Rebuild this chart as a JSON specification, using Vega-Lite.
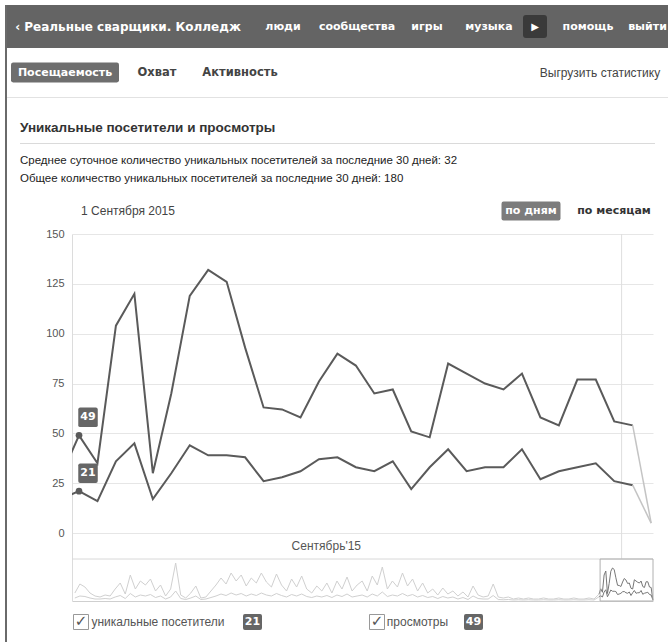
{
 "$schema": "https://vega.github.io/schema/vega-lite/v6.json",
 "background": "white",
 "padding": {"left": 5, "top": 5, "right": 0, "bottom": 0},
 "spacing": 0,
 "config": {"view": {"stroke": null}, "font": "Liberation Sans", "text": {"font": "Liberation Sans"}, "title": {"font": "Liberation Sans", "anchor": "start"}},
 "datasets": {
  "stats": [
   {"day":-313,"views":32,"visitors":12},{"day":-310,"views":68,"visitors":20},{"day":-307,"views":56,"visitors":18},{"day":-304,"views":32,"visitors":12},{"day":-301,"views":20,"visitors":8},
   {"day":-298,"views":16,"visitors":8},{"day":-295,"views":24,"visitors":10},{"day":-292,"views":20,"visitors":8},{"day":-289,"views":48,"visitors":16},{"day":-286,"views":72,"visitors":22},
   {"day":-283,"views":28,"visitors":10},{"day":-280,"views":104,"visitors":30},{"day":-277,"views":48,"visitors":16},{"day":-274,"views":80,"visitors":24},{"day":-271,"views":64,"visitors":20},
   {"day":-268,"views":88,"visitors":26},{"day":-265,"views":40,"visitors":14},{"day":-262,"views":64,"visitors":20},{"day":-259,"views":20,"visitors":8},{"day":-256,"views":48,"visitors":16},
   {"day":-253,"views":152,"visitors":40},{"day":-250,"views":24,"visitors":10},{"day":-247,"views":12,"visitors":6},{"day":-244,"views":32,"visitors":12},{"day":-241,"views":60,"visitors":20},
   {"day":-238,"views":12,"visitors":6},{"day":-235,"views":16,"visitors":8},{"day":-232,"views":40,"visitors":14},{"day":-229,"views":64,"visitors":20},{"day":-226,"views":92,"visitors":28},
   {"day":-223,"views":68,"visitors":22},{"day":-220,"views":112,"visitors":32},{"day":-217,"views":80,"visitors":24},{"day":-214,"views":104,"visitors":30},{"day":-211,"views":60,"visitors":20},
   {"day":-208,"views":92,"visitors":28},{"day":-205,"views":72,"visitors":22},{"day":-202,"views":112,"visitors":32},{"day":-199,"views":76,"visitors":24},{"day":-196,"views":56,"visitors":20},
   {"day":-193,"views":108,"visitors":30},{"day":-190,"views":64,"visitors":22},{"day":-187,"views":40,"visitors":16},{"day":-184,"views":88,"visitors":26},{"day":-181,"views":56,"visitors":20},
   {"day":-178,"views":100,"visitors":28},{"day":-175,"views":48,"visitors":18},{"day":-172,"views":32,"visitors":14},{"day":-169,"views":60,"visitors":20},{"day":-166,"views":40,"visitors":16},
   {"day":-163,"views":72,"visitors":22},{"day":-160,"views":32,"visitors":14},{"day":-157,"views":80,"visitors":24},{"day":-154,"views":48,"visitors":18},{"day":-151,"views":96,"visitors":28},
   {"day":-148,"views":40,"visitors":16},{"day":-145,"views":64,"visitors":20},{"day":-142,"views":80,"visitors":24},{"day":-139,"views":40,"visitors":16},{"day":-136,"views":100,"visitors":28},
   {"day":-133,"views":64,"visitors":20},{"day":-130,"views":136,"visitors":36},{"day":-127,"views":48,"visitors":18},{"day":-124,"views":80,"visitors":24},{"day":-121,"views":56,"visitors":20},
   {"day":-118,"views":112,"visitors":30},{"day":-115,"views":60,"visitors":20},{"day":-112,"views":88,"visitors":26},{"day":-109,"views":40,"visitors":16},{"day":-106,"views":72,"visitors":22},
   {"day":-103,"views":32,"visitors":14},{"day":-100,"views":48,"visitors":18},{"day":-97,"views":24,"visitors":10},{"day":-94,"views":52,"visitors":18},{"day":-91,"views":28,"visitors":12},
   {"day":-88,"views":40,"visitors":16},{"day":-85,"views":20,"visitors":8},{"day":-82,"views":36,"visitors":14},{"day":-79,"views":16,"visitors":6},{"day":-76,"views":60,"visitors":20},
   {"day":-73,"views":24,"visitors":10},{"day":-70,"views":16,"visitors":8},{"day":-67,"views":20,"visitors":8},{"day":-64,"views":68,"visitors":22},{"day":-61,"views":16,"visitors":6},
   {"day":-58,"views":12,"visitors":5},{"day":-55,"views":16,"visitors":6},{"day":-52,"views":8,"visitors":4},{"day":-49,"views":12,"visitors":5},{"day":-46,"views":8,"visitors":4},
   {"day":-43,"views":12,"visitors":5},{"day":-40,"views":8,"visitors":4},{"day":-37,"views":8,"visitors":4},{"day":-34,"views":12,"visitors":5},{"day":-31,"views":8,"visitors":4},
   {"day":-28,"views":8,"visitors":4},{"day":-25,"views":12,"visitors":5},{"day":-22,"views":8,"visitors":4},{"day":-19,"views":8,"visitors":4},{"day":-16,"views":12,"visitors":5},
   {"day":-13,"views":8,"visitors":4},{"day":-10,"views":8,"visitors":4},{"day":-7,"views":12,"visitors":5},{"day":-4,"views":8,"visitors":4},
   {"day":-1,"views":28,"visitors":17},{"day":0,"views":49,"visitors":21},{"day":1,"views":35,"visitors":16},{"day":2,"views":104,"visitors":36},{"day":3,"views":120,"visitors":45},
   {"day":4,"views":30,"visitors":17},{"day":5,"views":70,"visitors":30},{"day":6,"views":119,"visitors":44},{"day":7,"views":132,"visitors":39},{"day":8,"views":126,"visitors":39},
   {"day":9,"views":93,"visitors":38},{"day":10,"views":63,"visitors":26},{"day":11,"views":62,"visitors":28},{"day":12,"views":58,"visitors":31},{"day":13,"views":76,"visitors":37},
   {"day":14,"views":90,"visitors":38},{"day":15,"views":84,"visitors":33},{"day":16,"views":70,"visitors":31},{"day":17,"views":72,"visitors":36},{"day":18,"views":51,"visitors":22},
   {"day":19,"views":48,"visitors":33},{"day":20,"views":85,"visitors":42},{"day":21,"views":80,"visitors":31},{"day":22,"views":75,"visitors":33},{"day":23,"views":72,"visitors":33},
   {"day":24,"views":80,"visitors":42},{"day":25,"views":58,"visitors":27},{"day":26,"views":54,"visitors":31},{"day":27,"views":77,"visitors":33},{"day":28,"views":77,"visitors":35},
   {"day":29,"views":56,"visitors":26},{"day":30,"views":54,"visitors":24},{"day":31,"views":5,"visitors":5}
  ]
 },
 "hconcat": [
  {"width": 2, "height": 637, "view": {"fill": "#6a6a6a"}, "data": {"values": [{"k": 1}]}, "mark": {"type": "point", "opacity": 0, "size": 0}, "encoding": {}},
  {"spacing": 0, "vconcat": [
   {"spacing": 0, "bounds": "flush", "hconcat": [
    {"width": 242, "height": 43, "view": {"fill": "#646464"}, "data": {"values": [{"t": "‹ Реальные сварщики. Колледж"}]}, "mark": {"type": "text", "color": "white", "fontWeight": "bold", "fontSize": 12, "font": "DejaVu Sans"}, "encoding": {"text": {"field": "t"}}},
    {"width": 68, "height": 43, "view": {"fill": "#646464"}, "data": {"values": [{"t": "люди"}]}, "mark": {"type": "text", "color": "white", "fontWeight": "bold", "fontSize": 11, "font": "DejaVu Sans"}, "encoding": {"text": {"field": "t"}}},
    {"width": 80, "height": 43, "view": {"fill": "#646464"}, "data": {"values": [{"t": "сообщества"}]}, "mark": {"type": "text", "color": "white", "fontWeight": "bold", "fontSize": 11, "font": "DejaVu Sans"}, "encoding": {"text": {"field": "t"}}},
    {"width": 60, "height": 43, "view": {"fill": "#646464"}, "data": {"values": [{"t": "игры"}]}, "mark": {"type": "text", "color": "white", "fontWeight": "bold", "fontSize": 11, "font": "DejaVu Sans"}, "encoding": {"text": {"field": "t"}}},
    {"width": 64, "height": 43, "view": {"fill": "#646464"}, "data": {"values": [{"t": "музыка"}]}, "mark": {"type": "text", "color": "white", "fontWeight": "bold", "fontSize": 11, "font": "DejaVu Sans"}, "encoding": {"text": {"field": "t"}}},
    {"width": 28, "height": 43, "view": {"fill": "#646464"}, "data": {"values": [{"t": "▶"}]}, "layer": [
     {"mark": {"type": "point", "shape": "M-0.75,-0.95H0.75Q1,-0.95 1,-0.7V0.7Q1,0.95 0.75,0.95H-0.75Q-1,0.95 -1,0.7V-0.7Q-1,-0.95 -0.75,-0.95Z", "filled": true, "color": "#3a3a3a", "opacity": 1, "size": 576}, "encoding": {}},
     {"mark": {"type": "text", "color": "white", "fontSize": 10, "font": "DejaVu Sans"}, "encoding": {"text": {"field": "t"}}}
    ]},
    {"width": 78, "height": 43, "view": {"fill": "#646464"}, "data": {"values": [{"t": "помощь"}]}, "mark": {"type": "text", "color": "white", "fontWeight": "bold", "fontSize": 11, "font": "DejaVu Sans"}, "encoding": {"text": {"field": "t"}}},
    {"width": 41, "height": 43, "view": {"fill": "#646464"}, "data": {"values": [{"t": "выйти"}]}, "mark": {"type": "text", "color": "white", "fontWeight": "bold", "fontSize": 11, "font": "DejaVu Sans"}, "encoding": {"text": {"field": "t"}}}
   ]},
   {"spacing": 0, "bounds": "flush", "hconcat": [
    {"width": 116, "height": 49, "data": {"values": [{"t": "Посещаемость"}]}, "layer": [
     {"mark": {"type": "point", "shape": "M-0.96,-0.185H0.96Q1,-0.185 1,-0.145V0.145Q1,0.185 0.96,0.185H-0.96Q-1,0.185 -1,0.145V-0.145Q-1,-0.185 -0.96,-0.185Z", "filled": true, "color": "#6e6e6e", "opacity": 1, "size": 11664}, "encoding": {}},
     {"mark": {"type": "text", "color": "white", "fontWeight": "bold", "fontSize": 11, "font": "DejaVu Sans"}, "encoding": {"text": {"field": "t"}}}
    ]},
    {"width": 68, "height": 49, "data": {"values": [{"t": "Охват"}]}, "mark": {"type": "text", "color": "#444", "fontWeight": "bold", "fontSize": 11.5, "font": "DejaVu Sans"}, "encoding": {"text": {"field": "t"}}},
    {"width": 98, "height": 49, "data": {"values": [{"t": "Активность"}]}, "mark": {"type": "text", "color": "#444", "fontWeight": "bold", "fontSize": 11.5, "font": "DejaVu Sans"}, "encoding": {"text": {"field": "t"}}},
    {"width": 251, "height": 49, "data": {"values": [{"k": 1}]}, "mark": {"type": "point", "opacity": 0, "size": 0}, "encoding": {}},
    {"width": 120, "height": 49, "data": {"values": [{"t": "Выгрузить статистику"}]}, "mark": {"type": "text", "color": "#444", "fontSize": 12}, "encoding": {"text": {"field": "t"}}}
   ]},
   {"width": 661, "height": 1, "view": {"fill": "#e2e2e2"}, "data": {"values": [{"k": 1}]}, "mark": {"type": "point", "opacity": 0, "size": 0}, "encoding": {}},
   {"width": 1, "height": 23, "data": {"values": [{"k": 1}]}, "mark": {"type": "point", "opacity": 0, "size": 0}, "encoding": {}},
   {"spacing": 0, "bounds": "flush", "hconcat": [
    {"width": 13, "height": 1, "data": {"values": [{"k": 1}]}, "mark": {"type": "point", "opacity": 0, "size": 0}, "encoding": {}},
    {"width": 635, "height": 1, "view": {"fill": "#dadada"}, "data": {"values": [{"k": 1}]}, "mark": {"type": "point", "opacity": 0, "size": 0}, "encoding": {},
     "title": {"text": "Уникальные посетители и просмотры", "anchor": "start", "fontSize": 13.5, "fontWeight": "bold", "color": "#333", "offset": 8.5}}
   ]},
   {"width": 1, "height": 10, "data": {"values": [{"k": 1}]}, "mark": {"type": "point", "opacity": 0, "size": 0}, "encoding": {}},
   {"spacing": 0, "bounds": "flush", "hconcat": [
    {"width": 13, "height": 1, "data": {"values": [{"k": 1}]}, "mark": {"type": "point", "opacity": 0, "size": 0}, "encoding": {}},
    {"width": 600, "height": 1, "data": {"values": [{"k": 1}]}, "mark": {"type": "point", "opacity": 0, "size": 0}, "encoding": {},
     "title": {"text": ["Среднее суточное количество уникальных посетителей за последние 30 дней: 32", "Общее количество уникальных посетителей за последние 30 дней: 180"], "anchor": "start", "fontSize": 11.5, "fontWeight": "normal", "color": "#222", "lineHeight": 18, "offset": 2}}
   ]},
   {"width": 1, "height": 13, "data": {"values": [{"k": 1}]}, "mark": {"type": "point", "opacity": 0, "size": 0}, "encoding": {}},
   {"spacing": 0, "bounds": "flush", "hconcat": [
    {"width": 242, "height": 22, "data": {"values": [{"t": "1 Сентября 2015"}]}, "mark": {"type": "text", "color": "#444", "fontSize": 12}, "encoding": {"text": {"field": "t"}}},
    {"width": 252, "height": 22, "data": {"values": [{"k": 1}]}, "mark": {"type": "point", "opacity": 0, "size": 0}, "encoding": {}},
    {"width": 60, "height": 22, "data": {"values": [{"t": "по дням"}]}, "layer": [
     {"mark": {"type": "point", "shape": "M-0.93,-0.322H0.93Q1,-0.322 1,-0.25V0.25Q1,0.322 0.93,0.322H-0.93Q-1,0.322 -1,0.25V-0.25Q-1,-0.322 -0.93,-0.322Z", "filled": true, "color": "#7c7c7c", "opacity": 1, "size": 3481}, "encoding": {}},
     {"mark": {"type": "text", "color": "white", "fontWeight": "bold", "fontSize": 11, "font": "DejaVu Sans"}, "encoding": {"text": {"field": "t"}}}
    ]},
    {"width": 106, "height": 22, "data": {"values": [{"t": "по месяцам"}]}, "mark": {"type": "text", "color": "#333", "fontWeight": "bold", "fontSize": 11, "font": "DejaVu Sans"}, "encoding": {"text": {"field": "t"}}}
   ]},
   {"width": 1, "height": 6, "data": {"values": [{"k": 1}]}, "mark": {"type": "point", "opacity": 0, "size": 0}, "encoding": {}},
   {"spacing": 0, "bounds": "flush", "hconcat": [
    {"width": 65, "height": 367, "data": {"values": [{"k": 1}]}, "mark": {"type": "point", "opacity": 0, "size": 0}, "encoding": {}},
    {"width": 581, "height": 367,
     "data": {"name": "stats"},
     "transform": [{"fold": ["views", "visitors"], "as": ["series", "value"]}],
     "resolve": {"scale": {"x": "independent", "y": "independent"}, "axis": {"x": "independent", "y": "independent"}},
     "layer": [
      {"encoding": {
        "x": {"field": "day", "type": "quantitative", "scale": {"domain": [-0.38, 31.1], "nice": false, "zero": false}, "axis": null},
        "y": {"field": "value", "type": "quantitative", "scale": {"domain": [-34.1, 150], "nice": false, "zero": false},
              "axis": {"values": [0, 25, 50, 75, 100, 125, 150], "grid": true, "gridColor": "#e6e6e6", "domain": true, "domainColor": "#dcdcdc", "ticks": false, "tickSize": 0, "labelPadding": 8, "labelColor": "#555", "labelFontSize": 11, "labelFont": "Liberation Sans", "title": null}}
       },
       "layer": [
        {"transform": [{"filter": "datum.day == 0 && datum.series == 'views'"}], "mark": {"type": "rule", "color": "#dedede", "strokeWidth": 1}, "encoding": {"x": {"datum": 29.4}, "y": {"datum": 150}, "y2": {"datum": -13.1}}},
        {"transform": [{"filter": "datum.day == 0 && datum.series == 'views'"}], "mark": {"type": "text", "fontSize": 12, "color": "#555"}, "encoding": {"x": {"datum": 13.4}, "y": {"datum": -6.5}, "text": {"value": "Сентябрь'15"}}},
        {"transform": [{"filter": "datum.day >= -1 && datum.day <= 30"}], "mark": {"type": "line", "color": "#5a5a5a", "strokeWidth": 2, "clip": true}, "encoding": {"detail": {"field": "series"}}},
        {"transform": [{"filter": "datum.day >= 30"}], "mark": {"type": "line", "color": "#c4c4c4", "strokeWidth": 1.5, "clip": true}, "encoding": {"detail": {"field": "series"}}},
        {"transform": [{"filter": "datum.day == 0"}], "mark": {"type": "circle", "color": "#5a5a5a", "size": 45, "opacity": 1}},
        {"transform": [{"filter": "datum.day == 0"}], "mark": {"type": "point", "shape": "M-0.8,-1H0.8Q1,-1 1,-0.8V0.8Q1,1 0.8,1H-0.8Q-1,1 -1,0.8V-0.8Q-1,-1 -0.8,-1Z", "filled": true, "color": "#666", "opacity": 1, "size": 380, "xOffset": 9, "yOffset": -18}},
        {"transform": [{"filter": "datum.day == 0"}], "mark": {"type": "text", "color": "white", "fontWeight": "bold", "fontSize": 11, "font": "DejaVu Sans", "dx": 9, "dy": -18}, "encoding": {"text": {"field": "value"}}}
       ]},
      {"encoding": {
        "x": {"field": "day", "type": "quantitative", "scale": {"domain": [-314.7, 31.1], "nice": false, "zero": false},
              "axis": {"orient": "bottom", "domain": true, "domainColor": "#cfcfcf", "labels": false, "ticks": false, "grid": false, "title": null}},
        "y": {"field": "value", "type": "quantitative", "scale": {"domain": [0, 1468], "nice": false, "zero": false}, "axis": null}
       },
       "layer": [
        {"transform": [{"filter": "datum.day == 0 && datum.series == 'views'"}], "mark": {"type": "rule", "color": "#d8d8d8", "strokeWidth": 1}, "encoding": {"x": {"datum": -314.7}, "x2": {"datum": 31.1}, "y": {"datum": 168}}},
        {"transform": [{"filter": "datum.day <= -1"}], "mark": {"type": "line", "color": "#d0d0d0", "strokeWidth": 1}, "encoding": {"detail": {"field": "series"}}},
        {"transform": [{"filter": "datum.day >= -1"}], "mark": {"type": "line", "color": "#777", "strokeWidth": 1}, "encoding": {"detail": {"field": "series"}}},
        {"transform": [{"filter": "datum.day == 0 && datum.series == 'views'"}], "mark": {"type": "rect", "fillOpacity": 0, "stroke": "#b0b0b0", "strokeWidth": 1}, "encoding": {"x": {"datum": -0.38}, "x2": {"datum": 31.1}, "y": {"datum": 0}, "y2": {"datum": 168}}}
       ]}
     ]}
   ]},
   {"width": 1, "height": 10, "data": {"values": [{"k": 1}]}, "mark": {"type": "point", "opacity": 0, "size": 0}, "encoding": {}},
   {"spacing": 0, "bounds": "flush", "hconcat": [
    {"width": 66, "height": 18, "data": {"values": [{"k": 1}]}, "mark": {"type": "point", "opacity": 0, "size": 0}, "encoding": {}},
    {"width": 16, "height": 18, "data": {"values": [{"t": "✓"}]}, "layer": [
     {"mark": {"type": "point", "shape": "square", "filled": false, "color": "#999", "strokeWidth": 1, "opacity": 1, "size": 225}, "encoding": {}},
     {"mark": {"type": "text", "color": "#555", "fontSize": 15, "font": "DejaVu Sans", "dy": -1}, "encoding": {"text": {"field": "t"}}}
    ]},
    {"width": 138, "height": 18, "data": {"values": [{"t": "уникальные посетители"}]}, "mark": {"type": "text", "color": "#555", "fontSize": 12}, "encoding": {"text": {"field": "t"}}},
    {"width": 16, "height": 18, "data": {"values": [{"k": 1}]}, "mark": {"type": "point", "opacity": 0, "size": 0}, "encoding": {}},
    {"width": 19, "height": 18, "data": {"values": [{"t": "21"}]}, "layer": [
     {"mark": {"type": "point", "shape": "M-0.8,-0.84H0.8Q1,-0.84 1,-0.64V0.64Q1,0.84 0.8,0.84H-0.8Q-1,0.84 -1,0.64V-0.64Q-1,-0.84 -0.8,-0.84Z", "filled": true, "color": "#666", "opacity": 1, "size": 361}, "encoding": {}},
     {"mark": {"type": "text", "color": "white", "fontWeight": "bold", "fontSize": 11, "font": "DejaVu Sans"}, "encoding": {"text": {"field": "t"}}}
    ]},
    {"width": 107, "height": 18, "data": {"values": [{"k": 1}]}, "mark": {"type": "point", "opacity": 0, "size": 0}, "encoding": {}},
    {"width": 16, "height": 18, "data": {"values": [{"t": "✓"}]}, "layer": [
     {"mark": {"type": "point", "shape": "square", "filled": false, "color": "#999", "strokeWidth": 1, "opacity": 1, "size": 225}, "encoding": {}},
     {"mark": {"type": "text", "color": "#555", "fontSize": 15, "font": "DejaVu Sans", "dy": -1}, "encoding": {"text": {"field": "t"}}}
    ]},
    {"width": 65, "height": 18, "data": {"values": [{"t": "просмотры"}]}, "mark": {"type": "text", "color": "#555", "fontSize": 12}, "encoding": {"text": {"field": "t"}}},
    {"width": 14, "height": 18, "data": {"values": [{"k": 1}]}, "mark": {"type": "point", "opacity": 0, "size": 0}, "encoding": {}},
    {"width": 19, "height": 18, "data": {"values": [{"t": "49"}]}, "layer": [
     {"mark": {"type": "point", "shape": "M-0.8,-0.84H0.8Q1,-0.84 1,-0.64V0.64Q1,0.84 0.8,0.84H-0.8Q-1,0.84 -1,0.64V-0.64Q-1,-0.84 -0.8,-0.84Z", "filled": true, "color": "#666", "opacity": 1, "size": 361}, "encoding": {}},
     {"mark": {"type": "text", "color": "white", "fontWeight": "bold", "fontSize": 11, "font": "DejaVu Sans"}, "encoding": {"text": {"field": "t"}}}
    ]}
   ]}
  ]}
 ]
}
